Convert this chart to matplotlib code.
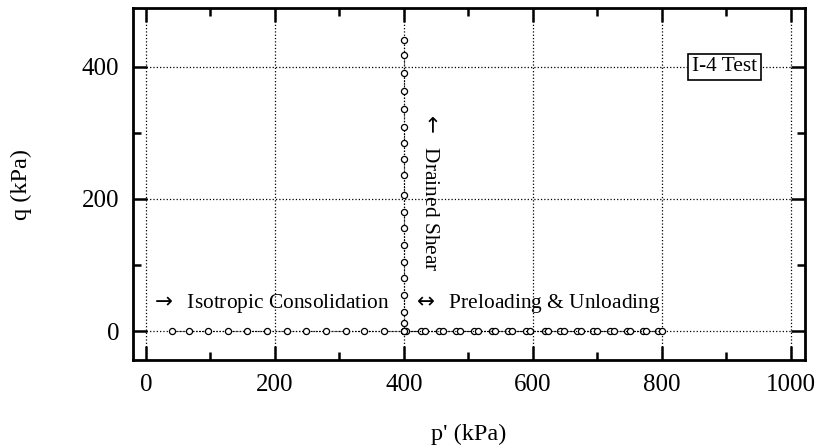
import matplotlib
matplotlib.use('Agg')
import matplotlib.pyplot as plt
from matplotlib.ticker import MultipleLocator

plt.rcParams['font.family'] = ['Liberation Serif', 'DejaVu Serif']

# isotropic consolidation path (q = 0)
iso_p = [40, 67, 97, 128, 157, 187, 218, 248, 279, 310, 338, 369, 400]
iso_q = [0] * len(iso_p)

# preloading to 800 kPa and unloading back to 400 kPa (q = 0)
pre_p = [400, 427, 455, 481, 509, 536, 561, 590, 618, 642, 668, 693, 720, 746, 770, 794]
unl_p = [404, 433, 460, 487, 515, 541, 567, 596, 624, 648, 674, 699, 726, 751, 776, 800]

# drained shear at p' = 400 kPa
shear_q = [0, 12, 29, 55, 80, 105, 130, 156, 180, 206, 236, 261, 285, 309, 336, 364, 391, 418, 441]
shear_p = [400] * len(shear_q)

fig = plt.figure(figsize=(8.19, 4.48), dpi=100)
ax = fig.add_axes([0.1624, 0.196, 0.8206, 0.786])

mk = dict(marker='o', markersize=4.4, markerfacecolor='white', markeredgecolor='black',
          markeredgewidth=0.9, color='black', linestyle=':', linewidth=0.8)
ax.plot(iso_p, iso_q, **mk)
ax.plot(pre_p, [0] * len(pre_p), **mk)
ax.plot(unl_p[::-1], [0] * len(unl_p), **mk)
ax.plot(shear_p, shear_q, **mk)

ax.set_xlim(-20, 1022)
ax.set_ylim(-44, 489)
ax.xaxis.set_major_locator(MultipleLocator(200))
ax.xaxis.set_minor_locator(MultipleLocator(100))
ax.yaxis.set_major_locator(MultipleLocator(200))
ax.yaxis.set_minor_locator(MultipleLocator(100))
ax.tick_params(which='both', direction='in', top=True, right=True, width=1.8,
               labelsize=18, pad=10)
ax.tick_params(which='major', length=10)
ax.tick_params(which='minor', length=6)
ax.grid(True, which='major', linestyle=':', linewidth=0.9, color='black')
ax.set_axisbelow(True)
for s in ax.spines.values():
    s.set_linewidth(2)

ax.set_xlabel("p' (kPa)", fontsize=17.5, labelpad=20)
ax.set_ylabel('q (kPa)', fontsize=17.5, labelpad=36)

fs = 15.4
ax.text(7, 42, r'$\rightarrow$  Isotropic Consolidation', fontsize=fs, va='center', ha='left')
ax.text(412, 42, r'$\leftrightarrow$  Preloading & Unloading', fontsize=fs, va='center', ha='left')
ax.text(440, 334, r'$\leftarrow$  Drained Shear', fontsize=fs, rotation=-90, va='top', ha='center')
ax.text(897, 400, 'I-4 Test', fontsize=fs, va='center', ha='center',
        bbox=dict(boxstyle='square,pad=0.18', facecolor='white', edgecolor='black', linewidth=1.2))

fig.savefig('out.png', dpi=100)
